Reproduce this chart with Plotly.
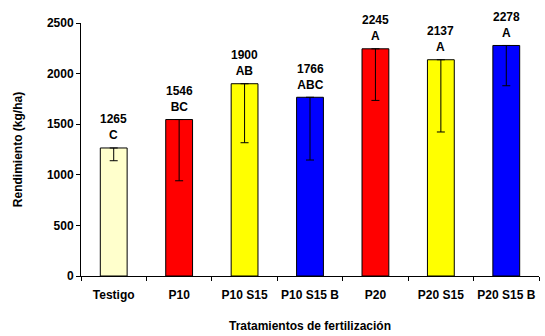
import plotly.graph_objects as go

categories = ["Testigo", "P10", "P10 S15", "P10 S15 B", "P20", "P20 S15", "P20 S15 B"]
yields = [1265, 1546, 1900, 1766, 2245, 2137, 2278]
err_minus = [126, 605, 583, 620, 510, 714, 398]
letters = ["C", "BC", "AB", "ABC", "A", "A", "A"]
colors = ["#FFFFCC", "#FF0000", "#FFFF00", "#0000FF", "#FF0000", "#FFFF00", "#0000FF"]

font = dict(family="Liberation Sans, Arial, sans-serif", size=12, color="black", weight="bold")

fig = go.Figure()
fig.add_trace(go.Bar(
    x=categories, y=yields, width=0.41,
    marker=dict(color=colors, line=dict(color="black", width=1)),
    error_y=dict(type="data", symmetric=False, array=[0]*len(yields), arrayminus=err_minus,
                 color="black", thickness=1, width=4),
    hoverinfo="x+y",
))

for c, v, l in zip(categories, yields, letters):
    fig.add_annotation(x=c, y=v, text=f"{v}<br>{l}", showarrow=False,
                       yanchor="bottom", yshift=3.5, font=font)

fig.update_layout(
    width=545, height=336,
    margin=dict(l=81, r=6, t=23, b=60),
    paper_bgcolor="white", plot_bgcolor="white",
    font=font, showlegend=False, bargap=0.59,
)
fig.update_xaxes(
    showline=True, linecolor="black", linewidth=1,
    ticks="outside", ticklen=4, tickcolor="black", tickson="boundaries",
    tickfont=font, showgrid=False, tickangle=0, automargin=False,
    ticklabelstandoff=8,
    title=dict(text="Tratamientos de fertilización", font=font, standoff=20),
)
fig.update_yaxes(
    range=[0, 2500], dtick=500, showline=True, linecolor="black", linewidth=1,
    ticks="outside", ticklen=4, tickcolor="black", showgrid=False, zeroline=False,
    tickfont=font, automargin=False,
    title=dict(text="Rendimiento (kg/ha)", font=font, standoff=21),
)

fig.write_html("out.html")
